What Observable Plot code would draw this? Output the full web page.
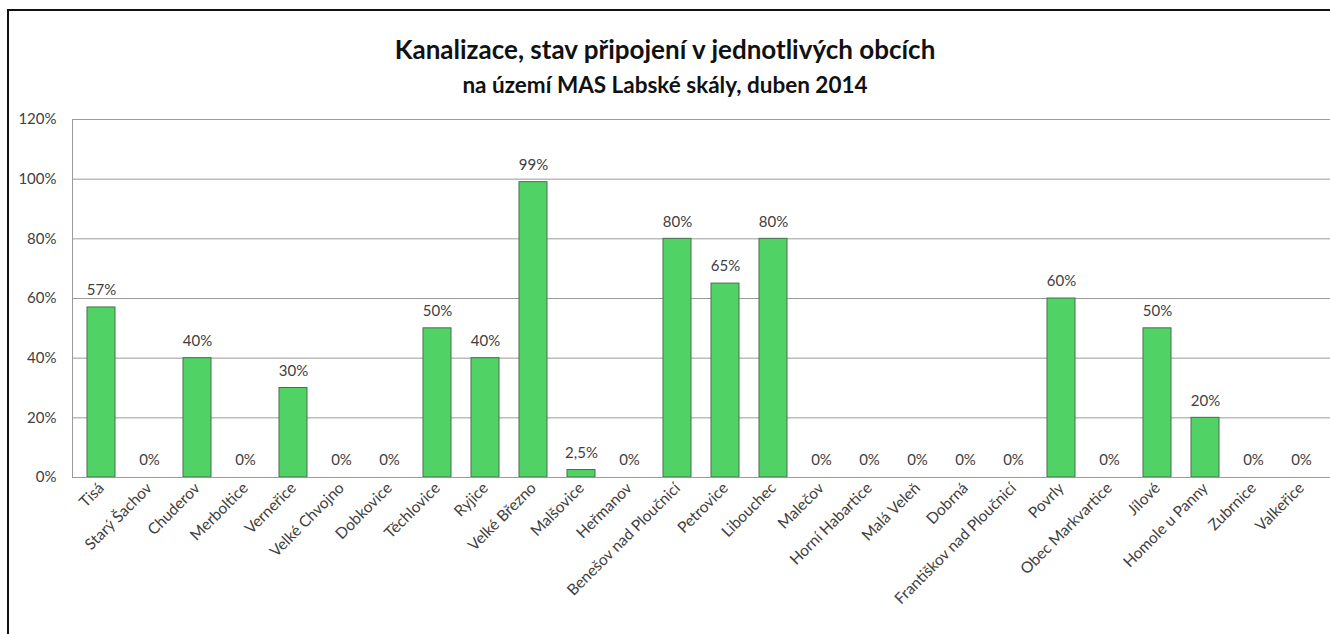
<!DOCTYPE html>
<html>
<head>
<meta charset="utf-8">
<script src="https://cdn.jsdelivr.net/npm/d3@7"></script>
<script src="https://cdn.jsdelivr.net/npm/@observablehq/plot@0.6"></script>
<style>
  html, body { margin: 0; padding: 0; background: #fff; }
  body { width: 1330px; height: 634px; overflow: hidden; position: relative; font-family: Lato, "Open Sans", sans-serif; }
  #frame { position: absolute; left: 7px; top: 9px; width: 1400px; height: 700px; border-top: 2px solid #111; border-left: 2px solid #111; }
  #title { position: absolute; left: 0; width: 1330px; top: 34px; text-align: center; font-size: 26px; font-weight: bold; color: #111; line-height: 30px; white-space: nowrap; }
  #subtitle { position: absolute; left: 0; width: 1330px; top: 72px; text-align: center; font-size: 22.5px; font-weight: bold; color: #111; line-height: 26px; white-space: nowrap; }
  #chart { position: absolute; left: 0; top: 100px; }
</style>
</head>
<body>
<div id="frame"></div>
<div id="title">Kanalizace, stav připojení v jednotlivých obcích</div>
<div id="subtitle">na území MAS Labské skály, duben 2014</div>
<div id="chart"></div>
<script>
const obce = ["Tisá", "Starý Šachov", "Chuderov", "Merboltice", "Verneřice", "Velké Chvojno", "Dobkovice", "Těchlovice", "Ryjice", "Velké Březno", "Malšovice", "Heřmanov", "Benešov nad Ploučnicí", "Petrovice", "Libouchec", "Malečov", "Horní Habartice", "Malá Veleň", "Dobrná", "Františkov nad Ploučnicí", "Povrly", "Obec Markvartice", "Jílové", "Homole u Panny", "Zubrnice", "Valkeřice"];
const pripojeni = [57, 0, 40, 0, 30, 0, 0, 50, 40, 99, 2.5, 0, 80, 65, 80, 0, 0, 0, 0, 0, 60, 0, 50, 20, 0, 0];
const yTicks = [0, 20, 40, 60, 80, 100, 120];

const data = obce.map((name, i) => ({name, value: pripojeni[i]}));
const pct = v => String(v).replace(".", ",") + "%";

const chart = Plot.plot({
  width: 1330,
  height: 534,
  marginLeft: 72,
  marginRight: 0,
  marginTop: 19,
  marginBottom: 157,
  style: {fontFamily: "Lato, 'Open Sans', sans-serif", fontSize: "15px", color: "#404040", background: "transparent", overflow: "visible"},
  x: {domain: obce, paddingInner: 0.42, paddingOuter: 0.21},
  y: {domain: [0, 120]},
  marks: [
    Plot.gridY(yTicks, {stroke: "#9a9a9a", strokeOpacity: 1, strokeWidth: 1}),
    Plot.frame({anchor: "left", stroke: "#9a9a9a"}),
    Plot.barY(data, {x: "name", y: "value", fill: "#50d264", stroke: "#4a6e50", strokeWidth: 1}),
    Plot.ruleY([0], {stroke: "#9a9a9a"}),
    Plot.text(data, {x: "name", y: "value", text: d => pct(d.value), dy: -17, fill: "#404040", fontSize: 15}),
    Plot.axisY({ticks: yTicks, tickFormat: d => d + "%", tickSize: 0, tickPadding: 16, fontSize: 15, label: null}),
    Plot.axisX({tickRotate: -45, tickSize: 0, tickPadding: 8, fontSize: 15.5, label: null})
  ]
});
document.getElementById("chart").appendChild(chart);
</script>
</body>
</html>
